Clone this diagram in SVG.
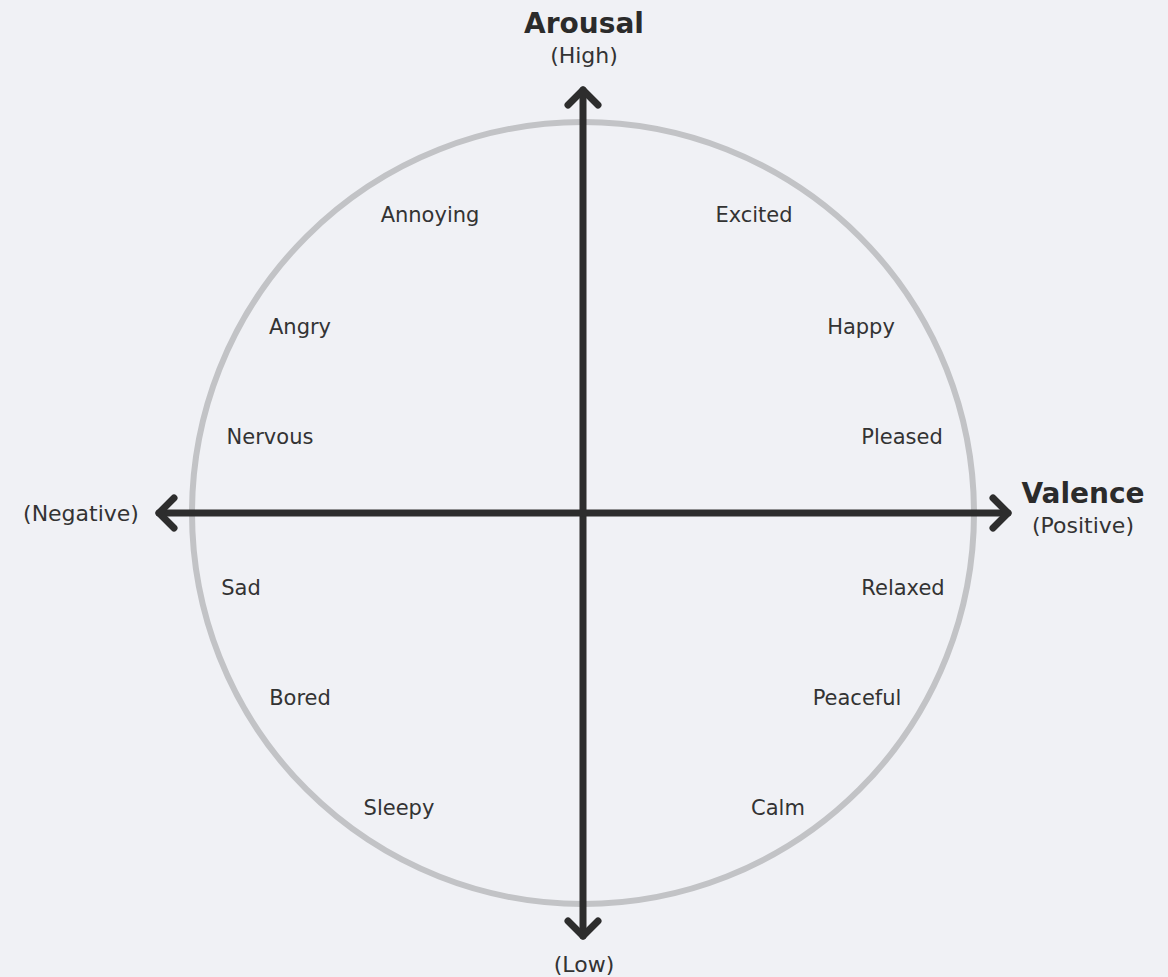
<svg xmlns="http://www.w3.org/2000/svg" width="1168" height="977" viewBox="0 0 1168 977">
<defs>
<style>
.lbl{font-family:"DejaVu Sans",Verdana,sans-serif;font-size:21px;fill:#333;text-anchor:middle}
.sub{font-family:"DejaVu Sans",Verdana,sans-serif;font-size:22px;fill:#333;text-anchor:middle}
.ttl{font-family:"DejaVu Sans",Verdana,sans-serif;font-size:28px;font-weight:bold;fill:#2b2b2b;text-anchor:middle}
.axis{stroke:#2d2d2d;stroke-width:7;fill:none;stroke-linecap:round;stroke-linejoin:round}
</style>
</defs>
<rect width="1168" height="977" fill="#f0f1f5"/>
<g id="circle"><circle cx="583" cy="513" r="391" fill="none" stroke="#c2c3c6" stroke-width="6"/></g>
<g id="connectors">
<line class="axis" x1="583" y1="90" x2="583" y2="936"/>
<line class="axis" x1="159" y1="513" x2="1008" y2="513"/>
<polyline class="axis" points="568,105 583,90 598,105"/>
<polyline class="axis" points="568,921 583,936 598,921"/>
<polyline class="axis" points="174,498 159,513 174,528"/>
<polyline class="axis" points="993,498 1008,513 993,528"/>
</g>
<g id="arousal"><text class="ttl" x="584" y="33">Arousal</text><text class="sub" x="584" y="63">(High)</text></g>
<g id="low"><text class="sub" x="584" y="972">(Low)</text></g>
<g id="valence"><text class="ttl" x="1083" y="503">Valence</text><text class="sub" x="1083" y="533">(Positive)</text></g>
<g id="negative"><text class="sub" x="81" y="521">(Negative)</text></g>
<g id="annoying"><text class="lbl" x="430" y="222">Annoying</text></g>
<g id="excited"><text class="lbl" x="754" y="222">Excited</text></g>
<g id="angry"><text class="lbl" x="300" y="334">Angry</text></g>
<g id="happy"><text class="lbl" x="861" y="334">Happy</text></g>
<g id="nervous"><text class="lbl" x="270" y="444">Nervous</text></g>
<g id="pleased"><text class="lbl" x="902" y="444">Pleased</text></g>
<g id="sad"><text class="lbl" x="241" y="595">Sad</text></g>
<g id="relaxed"><text class="lbl" x="903" y="595">Relaxed</text></g>
<g id="bored"><text class="lbl" x="300" y="705">Bored</text></g>
<g id="peaceful"><text class="lbl" x="857" y="705">Peaceful</text></g>
<g id="sleepy"><text class="lbl" x="399" y="815">Sleepy</text></g>
<g id="calm"><text class="lbl" x="778" y="815">Calm</text></g>
</svg>
